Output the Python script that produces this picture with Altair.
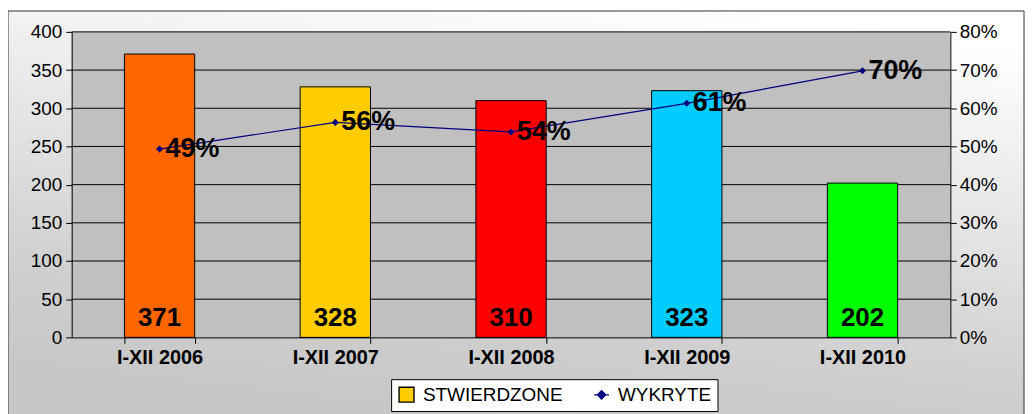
import altair as alt
import pandas as pd

periods = ["I-XII 2006", "I-XII 2007", "I-XII 2008", "I-XII 2009", "I-XII 2010"]
stwierdzone = [371, 328, 310, 323, 202]
wykryte = [0.493, 0.563, 0.538, 0.613, 0.698]
bar_colors = ["#FF6600", "#FFCC00", "#FF0000", "#00CCFF", "#00FF00"]
left_ticks = [0, 50, 100, 150, 200, 250, 300, 350, 400]
right_ticks = [0, 0.1, 0.2, 0.3, 0.4, 0.5, 0.6, 0.7, 0.8]
grid_values = [50, 100, 150, 200, 250, 300, 350, 400]
legend_names = ["STWIERDZONE", "WYKRYTE"]

W, H = 883, 307
FONT = "Liberation Sans"

df = pd.DataFrame({"period": periods, "stw": stwierdzone, "wyk": wykryte})
grid_df = pd.DataFrame({"g": grid_values})
leg_df = pd.DataFrame({"series": legend_names})

xaxis = alt.Axis(title=None, labelFont=FONT, labelFontSize=20, labelFontWeight="bold",
                 labelColor="black", labelAngle=0, domainColor="black", tickColor="black",
                 tickSize=6, labelPadding=4, tickBand="extent", zindex=1)
xscale = alt.Scale(paddingInner=0.6, paddingOuter=0.3)


def xenc():
    return alt.X("period:N", sort=periods, scale=xscale, axis=xaxis)


yleft = alt.Scale(domain=[0, 400])
yright = alt.Scale(domain=[0, 0.8])
left_axis = alt.Axis(title=None, values=left_ticks, grid=False, labelFont=FONT, labelFontSize=19,
                     labelColor="black", domainColor="black", tickColor="black", tickSize=6,
                     labelPadding=4, labelOverlap=False, zindex=1)
right_axis = alt.Axis(title=None, orient="right", values=right_ticks, format=".0%", grid=False,
                      labelFont=FONT, labelFontSize=19, labelColor="black", domainColor="black",
                      tickColor="black", tickSize=6, labelPadding=3, labelOverlap=False, zindex=1)

# decorative background
bg = alt.Chart(alt.Data(values=[{}])).mark_rect(
    fill={"gradient": "linear", "x1": 0.7, "y1": 0, "x2": 0.4, "y2": 1,
          "stops": [{"offset": 0, "color": "#ffffff"}, {"offset": 0.75, "color": "#cfcfcf"},
                    {"offset": 1, "color": "#c6c6c6"}]},
    stroke="#333333", strokeWidth=1
).encode(x=alt.value(-64), x2=alt.value(W + 74), y=alt.value(-21), y2=alt.value(H + 90))

plotbg = alt.Chart(alt.Data(values=[{}])).mark_rect(fill="#C0C0C0").encode(
    x=alt.value(0), x2=alt.value(W), y=alt.value(0), y2=alt.value(H))

grid = alt.Chart(grid_df).mark_rule(color="black", strokeWidth=1).encode(
    y=alt.Y("g:Q", scale=yleft, axis=left_axis))

bars = alt.Chart(df).mark_bar(stroke="black", strokeWidth=1).encode(
    x=xenc(),
    y=alt.Y("stw:Q", scale=yleft, axis=left_axis),
    fill=alt.Fill("period:N", sort=periods, scale=alt.Scale(domain=periods, range=bar_colors), legend=None),
)

bar_labels = alt.Chart(df).mark_text(font=FONT, fontSize=26, fontWeight="bold", color="black",
                                     baseline="alphabetic", dy=-11).encode(
    x=xenc(), y=alt.datum(0, scale=yleft, axis=left_axis), text=alt.Text("stw:Q"))

left = alt.layer(grid, bars, bar_labels)

line = alt.Chart(df).mark_line(color="#000080", strokeWidth=1.2).encode(
    x=xenc(), y=alt.Y("wyk:Q", scale=yright, axis=right_axis))

pts = alt.Chart(df).mark_point(shape="diamond", filled=True, color="#000080", size=50, opacity=1).encode(
    x=xenc(), y=alt.Y("wyk:Q", scale=yright, axis=right_axis))

pct = alt.Chart(df).mark_text(font=FONT, fontSize=27, fontWeight="bold", color="black",
                              align="left", baseline="middle", dx=6).encode(
    x=xenc(), y=alt.Y("wyk:Q", scale=yright, axis=right_axis),
    text=alt.Text("wyk:Q", format=".0%"))

right = alt.layer(line, pts, pct)

leg_kwargs = dict(title=None, orient="none", legendX=321, legendY=349, direction="horizontal",
                  fillColor="white", strokeColor="black", padding=6, labelFont=FONT, labelFontSize=19,
                  labelColor="black", symbolSize=225, symbolStrokeWidth=1.4, columnPadding=28,
                  labelOffset=7)
legend_layer = alt.Chart(leg_df).mark_point(filled=True, opacity=1).encode(
    fill=alt.Fill("series:N", scale=alt.Scale(domain=legend_names, range=["#FFCC00", "#000080"]),
                  legend=alt.Legend(**leg_kwargs)),
    stroke=alt.Stroke("series:N", scale=alt.Scale(domain=legend_names, range=["black", "#000080"]),
                      legend=alt.Legend(**leg_kwargs)),
    shape=alt.Shape("series:N", scale=alt.Scale(
        domain=legend_names,
        range=["square", "M-1,0L1,0M0,-0.55L0.55,0L0,0.55L-0.55,0Z"]),
        legend=alt.Legend(**leg_kwargs)),
).transform_filter("false")

chart = alt.layer(bg, plotbg, left, right, legend_layer).resolve_scale(
    y="independent", fill="independent", stroke="independent", shape="independent"
).properties(
    width=W, height=H,
    autosize=alt.AutoSizeParams(type="none"),
    padding={"left": 64, "top": 23, "right": 75, "bottom": 77},
    background="white",
).configure_view(stroke=None)

chart.save("out.html", embed_options={"renderer": "svg", "actions": False})
